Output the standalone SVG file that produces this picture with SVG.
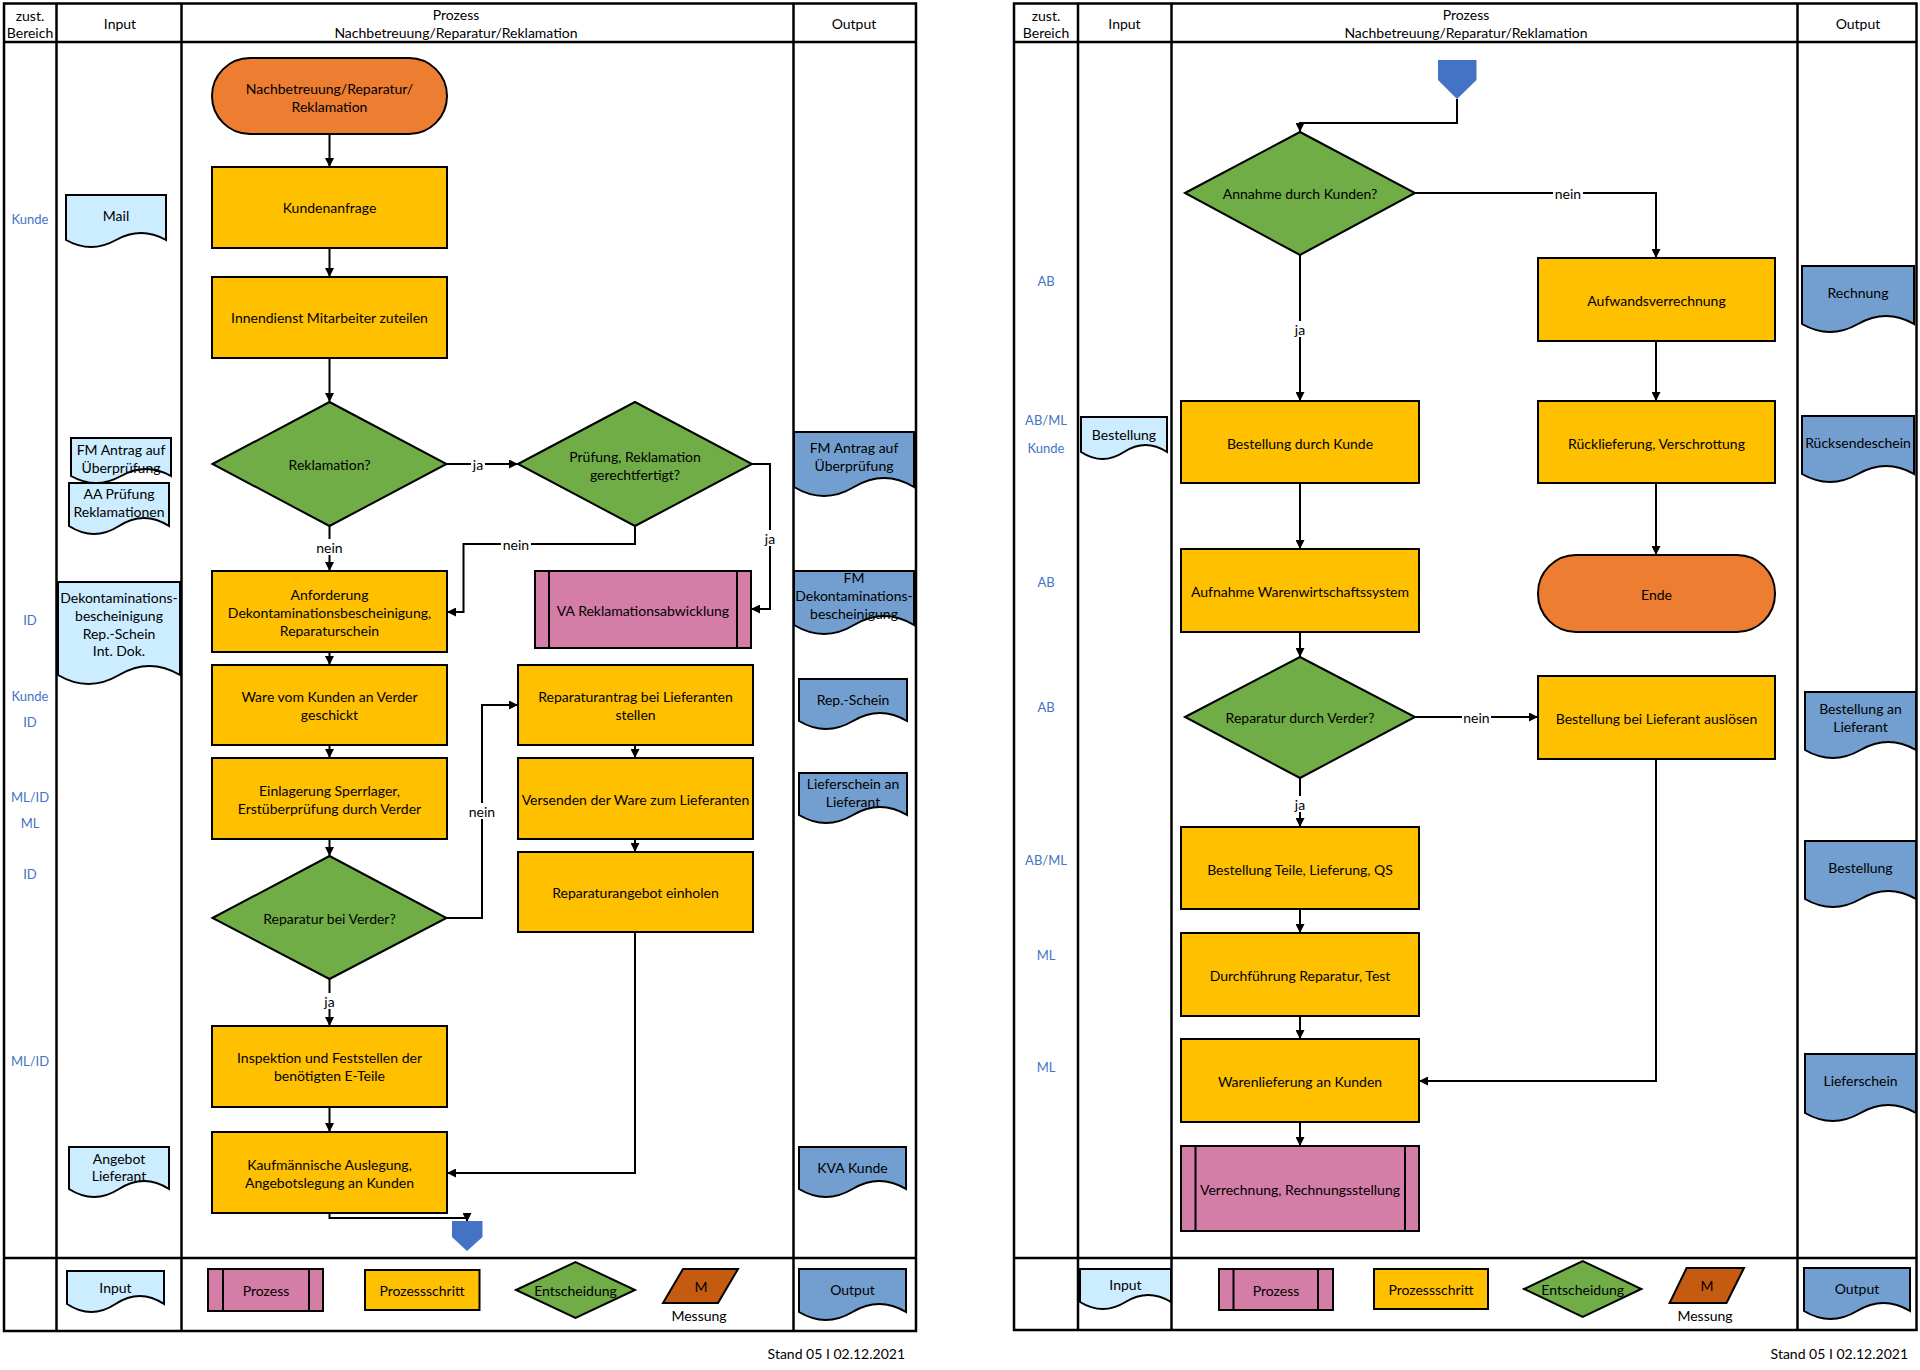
<svg xmlns="http://www.w3.org/2000/svg" width="1920" height="1370" viewBox="0 0 1920 1370">
<defs>
<marker id="arr" viewBox="0 0 10 10" refX="10" refY="5" markerWidth="9" markerHeight="9" markerUnits="userSpaceOnUse" orient="auto"><path d="M0,0 L10,5 L0,10 Z" fill="#000"/></marker>
<style>
text{font-family:Lato,"Liberation Sans",sans-serif;font-size:14px;fill:#000;text-anchor:middle;dominant-baseline:central}
.area{fill:#4472C4;font-size:13px}
.stand{text-anchor:end;font-size:14px}
.tbl{fill:none;stroke:#000;stroke-width:2.5}
.ln{stroke:#000;stroke-width:2.5}
.term{fill:#ED7D31;stroke:#000;stroke-width:2}
.step{fill:#FFC000;stroke:#000;stroke-width:2}
.dec{fill:#70AD47;stroke:#000;stroke-width:2}
.proc{fill:#D37DA7;stroke:#000;stroke-width:2}
.pl{stroke:#000;stroke-width:2}
.in{fill:#CCECFF;stroke:#000;stroke-width:2}
.out{fill:#729FCF;stroke:#000;stroke-width:2}
.off{fill:#4472C4}
.mes{fill:#C55A11;stroke:#000;stroke-width:2}
.c{fill:none;stroke:#000;stroke-width:2;marker-end:url(#arr)}
.lb{fill:#fff}
</style>
</defs>
<rect width="1920" height="1370" fill="#fff"/>

<!-- LEFT TABLE -->
<g id="table-left">
<rect class="tbl" x="4" y="3.5" width="912" height="1327.5"/>
<line class="ln" x1="4" y1="42" x2="916" y2="42"/>
<line class="ln" x1="4" y1="1258" x2="916" y2="1258"/>
<line class="ln" x1="56.5" y1="3.5" x2="56.5" y2="1331"/>
<line class="ln" x1="181.5" y1="3.5" x2="181.5" y2="1331"/>
<line class="ln" x1="793.5" y1="3.5" x2="793.5" y2="1331"/>
<text x="30" y="15">zust.</text>
<text x="30" y="32">Bereich</text>
<text x="120" y="23">Input</text>
<text x="456" y="14">Prozess</text>
<text x="456" y="32">Nachbetreuung/Reparatur/Reklamation</text>
<text x="854" y="23">Output</text>
</g>
<g id="areas-left">
<text class="area" x="30" y="219">Kunde</text>
<text class="area" x="30" y="620">ID</text>
<text class="area" x="30" y="696">Kunde</text>
<text class="area" x="30" y="722">ID</text>
<text class="area" x="30" y="797">ML/ID</text>
<text class="area" x="30" y="823">ML</text>
<text class="area" x="30" y="874">ID</text>
<text class="area" x="30" y="1061">ML/ID</text>
</g>

<!-- LEFT CONNECTORS -->
<g id="connectors-left">
<path class="c" d="M329.5,134 V167"/>
<path class="c" d="M329.5,248 V277"/>
<path class="c" d="M329.5,358 V402"/>
<path class="c" d="M446.5,464 H518"/>
<path class="c" d="M329.5,526 V571"/>
<path class="c" d="M635,526 V544 H463.5 V612 H447"/>
<path class="c" d="M752,464 H770 V609 H751"/>
<path class="c" d="M329.5,652 V665"/>
<path class="c" d="M329.5,745 V758"/>
<path class="c" d="M329.5,839 V856"/>
<path class="c" d="M446.5,918 H482 V705 H518"/>
<path class="c" d="M635,745 V758"/>
<path class="c" d="M635,839 V852"/>
<path class="c" d="M329.5,979 V1026"/>
<path class="c" d="M329.5,1107 V1132"/>
<path class="c" d="M635,932 V1173 H447"/>
<path class="c" d="M329.5,1213 V1218 H467 V1222"/>
<rect class="lb" x="471" y="456" width="14" height="16"/><text x="478" y="464">ja</text>
<rect class="lb" x="315" y="539" width="29" height="16"/><text x="329.5" y="547">nein</text>
<rect class="lb" x="501" y="536" width="30" height="16"/><text x="516" y="544">nein</text>
<rect class="lb" x="763" y="530" width="14" height="16"/><text x="770" y="538">ja</text>
<rect class="lb" x="467" y="803" width="30" height="16"/><text x="482" y="811">nein</text>
<rect class="lb" x="322" y="993" width="15" height="16"/><text x="329.5" y="1001">ja</text>
</g>

<!-- LEFT NODES -->
<g id="start-left"><rect class="term" x="212" y="58" width="235" height="76" rx="38"/><text x="329.5" y="88">Nachbetreuung/Reparatur/</text><text x="329.5" y="106">Reklamation</text></g>
<g id="kundenanfrage"><rect class="step" x="212" y="167" width="235" height="81"/><text x="329.5" y="207">Kundenanfrage</text></g>
<g id="innendienst"><rect class="step" x="212" y="277" width="235" height="81"/><text x="329.5" y="317.5">Innendienst Mitarbeiter zuteilen</text></g>
<g id="reklamation"><polygon class="dec" points="212.5,464 329.5,402 446.5,464 329.5,526"/><text x="329.5" y="464">Reklamation?</text></g>
<g id="pruefung"><polygon class="dec" points="518,464 635,402 752,464 635,526"/><text x="635" y="456">Prüfung, Reklamation</text><text x="635" y="474">gerechtfertigt?</text></g>
<g id="anforderung"><rect class="step" x="212" y="571" width="235" height="81"/><text x="329.5" y="594">Anforderung</text><text x="329.5" y="612">Dekontaminationsbescheinigung,</text><text x="329.5" y="630">Reparaturschein</text></g>
<g id="va-reklamation"><rect class="proc" x="535" y="571" width="216" height="77"/><line class="pl" x1="549" y1="571" x2="549" y2="648"/><line class="pl" x1="737" y1="571" x2="737" y2="648"/><text x="643" y="610">VA Reklamationsabwicklung</text></g>
<g id="ware-vom-kunden"><rect class="step" x="212" y="665" width="235" height="80"/><text x="329.5" y="696">Ware vom Kunden an Verder</text><text x="329.5" y="714">geschickt</text></g>
<g id="reparaturantrag"><rect class="step" x="518" y="665" width="235" height="80"/><text x="635.5" y="696">Reparaturantrag bei Lieferanten</text><text x="635.5" y="714">stellen</text></g>
<g id="einlagerung"><rect class="step" x="212" y="758" width="235" height="81"/><text x="329.5" y="790">Einlagerung Sperrlager,</text><text x="329.5" y="808">Erstüberprüfung durch Verder</text></g>
<g id="versenden"><rect class="step" x="518" y="758" width="235" height="81"/><text x="635.5" y="799">Versenden der Ware zum Lieferanten</text></g>
<g id="reparaturangebot"><rect class="step" x="518" y="852" width="235" height="80"/><text x="635.5" y="892">Reparaturangebot einholen</text></g>
<g id="reparatur-bei-verder"><polygon class="dec" points="212.5,918 329.5,856 446.5,918 329.5,979"/><text x="329.5" y="918">Reparatur bei Verder?</text></g>
<g id="inspektion"><rect class="step" x="212" y="1026" width="235" height="81"/><text x="329.5" y="1057">Inspektion und Feststellen der</text><text x="329.5" y="1075">benötigten E-Teile</text></g>
<g id="kaufmaennische"><rect class="step" x="212" y="1132" width="235" height="81"/><text x="329.5" y="1164">Kaufmännische Auslegung,</text><text x="329.5" y="1182">Angebotslegung an Kunden</text></g>
<g id="offpage-left"><polygon class="off" points="452,1221 482.5,1221 482.5,1237 467,1251 452,1237"/></g>

<!-- LEFT INPUTS -->
<g id="in-mail"><path class="in" d="M66,195 H166 V240 Q141,226 116,240 Q91,254 66,240 Z"/><text x="116" y="215">Mail</text></g>
<g id="in-fm-antrag"><path class="in" d="M71,438 H171 V476 Q146,462 121,476 Q96,490 71,476 Z"/><text x="121" y="449">FM Antrag auf</text><text x="121" y="467">Überprüfung</text></g>
<g id="in-aa-pruefung"><path class="in" d="M69,483 H169 V526 Q144,510 119,526 Q94,542 69,526 Z"/><text x="119" y="493">AA Prüfung</text><text x="119" y="511">Reklamationen</text></g>
<g id="in-dekont"><path class="in" d="M58,582 H180 V675 Q149.5,657 119,675 Q88.5,693 58,675 Z"/><text x="119" y="597">Dekontaminations-</text><text x="119" y="615">bescheinigung</text><text x="119" y="633">Rep.-Schein</text><text x="119" y="650">Int. Dok.</text></g>
<g id="in-angebot"><path class="in" d="M69,1147 H169 V1189 Q144,1173 119,1189 Q94,1205 69,1189 Z"/><text x="119" y="1158">Angebot</text><text x="119" y="1175">Lieferant</text></g>

<!-- LEFT OUTPUTS -->
<g id="out-fm-antrag"><path class="out" d="M794,432 H914 V487 Q884,469 854,487 Q824,505 794,487 Z"/><text x="854" y="447">FM Antrag auf</text><text x="854" y="465">Überprüfung</text></g>
<g id="out-fm-dekont"><path class="out" d="M794,571 H914 V625 Q884,607 854,625 Q824,643 794,625 Z"/><text x="854" y="577">FM</text><text x="854" y="595">Dekontaminations-</text><text x="854" y="613">bescheinigung</text></g>
<g id="out-rep-schein"><path class="out" d="M799,679 H907 V721 Q880,705 853,721 Q826,737 799,721 Z"/><text x="853" y="699">Rep.-Schein</text></g>
<g id="out-lieferschein-lief"><path class="out" d="M799,773 H907 V815 Q880,799 853,815 Q826,831 799,815 Z"/><text x="853" y="783">Lieferschein an</text><text x="853" y="801">Lieferant</text></g>
<g id="out-kva"><path class="out" d="M799,1147 H906 V1189 Q879.25,1173 852.5,1189 Q825.75,1205 799,1189 Z"/><text x="852.5" y="1167">KVA Kunde</text></g>

<!-- LEFT LEGEND -->
<g id="legend-left">
<g id="lgl-input"><path class="in" d="M67,1271 H164 V1304 Q139.75,1288 115.5,1304 Q91.25,1320 67,1304 Z"/><text x="115.5" y="1287">Input</text></g>
<g id="lgl-prozess"><rect class="proc" x="208" y="1269" width="115" height="42"/><line class="pl" x1="223" y1="1269" x2="223" y2="1311"/><line class="pl" x1="309" y1="1269" x2="309" y2="1311"/><text x="266" y="1290">Prozess</text></g>
<g id="lgl-schritt"><rect class="step" x="365" y="1270" width="114.5" height="40"/><text x="422" y="1290">Prozessschritt</text></g>
<g id="lgl-entscheidung"><polygon class="dec" points="516,1290 575.5,1262 635,1290 575.5,1318"/><text x="575.5" y="1290">Entscheidung</text></g>
<g id="lgl-messung"><polygon class="mes" points="683,1269 738,1269 718,1303 663,1303"/><text x="701" y="1286">M</text><text x="699" y="1315">Messung</text></g>
<g id="lgl-output"><path class="out" d="M799,1269 H906 V1312 Q879.25,1296 852.5,1312 Q825.75,1328 799,1312 Z"/><text x="852.5" y="1289">Output</text></g>
</g>
<text class="stand" x="905" y="1353">Stand 05 I 02.12.2021</text>

<!-- RIGHT TABLE -->
<g id="table-right">
<rect class="tbl" x="1014" y="3.5" width="902.5" height="1326.5"/>
<line class="ln" x1="1014" y1="42" x2="1916.5" y2="42"/>
<line class="ln" x1="1014" y1="1258" x2="1916.5" y2="1258"/>
<line class="ln" x1="1078" y1="3.5" x2="1078" y2="1330"/>
<line class="ln" x1="1171.5" y1="3.5" x2="1171.5" y2="1330"/>
<line class="ln" x1="1797.5" y1="3.5" x2="1797.5" y2="1330"/>
<text x="1046" y="15">zust.</text>
<text x="1046" y="32">Bereich</text>
<text x="1124.5" y="23">Input</text>
<text x="1466" y="14">Prozess</text>
<text x="1466" y="32">Nachbetreuung/Reparatur/Reklamation</text>
<text x="1858" y="23">Output</text>
</g>
<g id="areas-right">
<text class="area" x="1046" y="281">AB</text>
<text class="area" x="1046" y="420">AB/ML</text>
<text class="area" x="1046" y="448">Kunde</text>
<text class="area" x="1046" y="582">AB</text>
<text class="area" x="1046" y="707">AB</text>
<text class="area" x="1046" y="860">AB/ML</text>
<text class="area" x="1046" y="955">ML</text>
<text class="area" x="1046" y="1067">ML</text>
</g>

<!-- RIGHT CONNECTORS -->
<g id="connectors-right">
<path class="c" d="M1457,99 V123 H1300 V132"/>
<path class="c" d="M1415,193 H1656 V258"/>
<path class="c" d="M1300,255 V401"/>
<path class="c" d="M1656,341 V401"/>
<path class="c" d="M1300,483 V549"/>
<path class="c" d="M1656,483 V555"/>
<path class="c" d="M1300,632 V657"/>
<path class="c" d="M1415,717 H1538"/>
<path class="c" d="M1300,778 V827"/>
<path class="c" d="M1656,759 V1081 H1419"/>
<path class="c" d="M1300,909 V933"/>
<path class="c" d="M1300,1016 V1039"/>
<path class="c" d="M1300,1122 V1146"/>
<rect class="lb" x="1553" y="185" width="30" height="16"/><text x="1568" y="193">nein</text>
<rect class="lb" x="1293" y="321" width="14" height="16"/><text x="1300" y="329">ja</text>
<rect class="lb" x="1462" y="709" width="29" height="16"/><text x="1476.5" y="717">nein</text>
<rect class="lb" x="1293" y="796" width="14" height="16"/><text x="1300" y="804">ja</text>
</g>

<!-- RIGHT NODES -->
<g id="offpage-right"><polygon class="off" points="1438,60 1476.5,60 1476.5,80 1457,99 1438,80"/></g>
<g id="annahme"><polygon class="dec" points="1185,193 1300,132 1415,193 1300,255"/><text x="1300" y="193">Annahme durch Kunden?</text></g>
<g id="aufwandsverrechnung"><rect class="step" x="1538" y="258" width="237" height="83"/><text x="1656.5" y="300">Aufwandsverrechnung</text></g>
<g id="bestellung-kunde"><rect class="step" x="1181" y="401" width="238" height="82"/><text x="1300" y="443">Bestellung durch Kunde</text></g>
<g id="ruecklieferung"><rect class="step" x="1538" y="401" width="237" height="82"/><text x="1656.5" y="443">Rücklieferung, Verschrottung</text></g>
<g id="aufnahme"><rect class="step" x="1181" y="549" width="238" height="83"/><text x="1300" y="591">Aufnahme Warenwirtschaftssystem</text></g>
<g id="ende"><rect class="term" x="1538" y="555" width="237" height="77" rx="38"/><text x="1656.5" y="594">Ende</text></g>
<g id="reparatur-durch-verder"><polygon class="dec" points="1185,717 1300,657 1415,717 1300,778"/><text x="1300" y="717">Reparatur durch Verder?</text></g>
<g id="bestellung-lieferant"><rect class="step" x="1538" y="676" width="237" height="83"/><text x="1656.5" y="718">Bestellung bei Lieferant auslösen</text></g>
<g id="bestellung-teile"><rect class="step" x="1181" y="827" width="238" height="82"/><text x="1300" y="869">Bestellung Teile, Lieferung, QS</text></g>
<g id="durchfuehrung"><rect class="step" x="1181" y="933" width="238" height="83"/><text x="1300" y="975">Durchführung Reparatur, Test</text></g>
<g id="warenlieferung"><rect class="step" x="1181" y="1039" width="238" height="83"/><text x="1300" y="1081">Warenlieferung an Kunden</text></g>
<g id="verrechnung"><rect class="proc" x="1181" y="1146" width="238" height="85"/><line class="pl" x1="1195.5" y1="1146" x2="1195.5" y2="1231"/><line class="pl" x1="1405" y1="1146" x2="1405" y2="1231"/><text x="1300" y="1189">Verrechnung, Rechnungsstellung</text></g>

<!-- RIGHT INPUTS / OUTPUTS -->
<g id="in-bestellung"><path class="in" d="M1081,417 H1167 V452 Q1145.5,438 1124,452 Q1102.5,466 1081,452 Z"/><text x="1124" y="434">Bestellung</text></g>
<g id="out-rechnung"><path class="out" d="M1802,266 H1914 V324 Q1886,308 1858,324 Q1830,340 1802,324 Z"/><text x="1858" y="292">Rechnung</text></g>
<g id="out-ruecksendeschein"><path class="out" d="M1802,416 H1914 V474 Q1886,458 1858,474 Q1830,490 1802,474 Z"/><text x="1858" y="442">Rücksendeschein</text></g>
<g id="out-bestellung-lief"><path class="out" d="M1805,692 H1916 V750 Q1888.25,734 1860.5,750 Q1832.75,766 1805,750 Z"/><text x="1860.5" y="708">Bestellung an</text><text x="1860.5" y="726">Lieferant</text></g>
<g id="out-bestellung"><path class="out" d="M1805,841 H1916 V899 Q1888.25,883 1860.5,899 Q1832.75,915 1805,899 Z"/><text x="1860.5" y="867">Bestellung</text></g>
<g id="out-lieferschein"><path class="out" d="M1805,1054 H1916 V1113 Q1888.25,1097 1860.5,1113 Q1832.75,1129 1805,1113 Z"/><text x="1860.5" y="1080">Lieferschein</text></g>

<!-- RIGHT LEGEND -->
<g id="legend-right">
<g id="lgr-input"><path class="in" d="M1080,1269 H1171 V1302 Q1148.25,1288 1125.5,1302 Q1102.75,1316 1080,1302 Z"/><text x="1125.5" y="1284">Input</text></g>
<g id="lgr-prozess"><rect class="proc" x="1219" y="1269" width="114" height="41"/><line class="pl" x1="1233.5" y1="1269" x2="1233.5" y2="1310"/><line class="pl" x1="1318" y1="1269" x2="1318" y2="1310"/><text x="1276" y="1290">Prozess</text></g>
<g id="lgr-schritt"><rect class="step" x="1374" y="1269" width="114" height="40"/><text x="1431" y="1289">Prozessschritt</text></g>
<g id="lgr-entscheidung"><polygon class="dec" points="1524,1289 1582.7,1261 1641.4,1289 1582.7,1317"/><text x="1582.7" y="1289">Entscheidung</text></g>
<g id="lgr-messung"><polygon class="mes" points="1686.6,1268 1744,1268 1726.5,1303 1669.6,1303"/><text x="1707" y="1285">M</text><text x="1705" y="1315">Messung</text></g>
<g id="lgr-output"><path class="out" d="M1804,1268 H1910 V1311 Q1883.5,1295 1857,1311 Q1830.5,1327 1804,1311 Z"/><text x="1857" y="1288">Output</text></g>
</g>
<text class="stand" x="1908" y="1353">Stand 05 I 02.12.2021</text>
</svg>
